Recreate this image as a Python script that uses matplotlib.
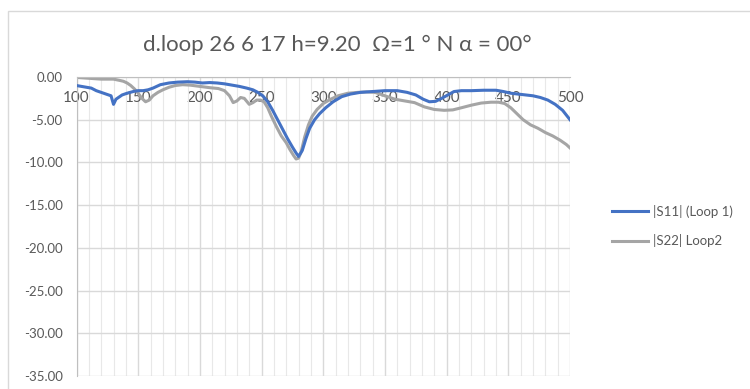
import matplotlib.pyplot as plt
import matplotlib.ticker as mticker
from matplotlib.patches import Rectangle

plt.rcParams['font.family'] = ['Lato', 'DejaVu Sans']
plt.rcParams['axes.unicode_minus'] = False

# |S11| (Loop 1)
freq_s11 = [100, 104, 108, 112, 116, 120, 124, 128, 130, 132, 134, 137, 141, 146, 150, 154,
            158, 162, 168, 175, 182, 190, 196, 202, 208, 214, 220, 226, 232, 238, 243, 247,
            251, 255, 259, 263, 267, 271, 275, 278, 280, 283, 286, 289, 293, 297, 302, 308,
            315, 322, 330, 340, 350, 360, 368, 375, 381, 386, 391, 396, 401, 406, 412, 420,
            430, 440, 446, 452, 458, 464, 470, 476, 482, 488, 494, 500]
s11 = [-1.0, -1.1, -1.2, -1.3, -1.6, -1.8, -2.0, -2.2, -3.2, -2.6, -2.4, -2.1, -1.9, -1.7,
       -1.6, -1.6, -1.5, -1.3, -0.9, -0.7, -0.6, -0.55, -0.6, -0.7, -0.65, -0.7, -0.8, -0.95,
       -1.1, -1.3, -1.5, -1.8, -2.2, -2.9, -3.9, -5.0, -6.1, -7.2, -8.2, -8.9, -9.3, -8.6,
       -7.2, -6.0, -5.0, -4.3, -3.6, -2.9, -2.3, -2.0, -1.8, -1.7, -1.6, -1.6, -1.8, -2.1,
       -2.6, -2.9, -2.85, -2.5, -2.1, -1.7, -1.6, -1.6, -1.55, -1.55, -1.7, -1.9, -2.0, -2.1,
       -2.2, -2.4, -2.7, -3.2, -3.9, -5.0]

# |S22| Loop2
freq_s22 = [100, 105, 110, 115, 120, 125, 130, 135, 138, 141, 144, 147, 150, 153, 156, 159,
            162, 166, 170, 175, 180, 186, 192, 200, 208, 215, 220, 224, 227, 230, 233, 236,
            240, 243, 246, 249, 252, 255, 258, 262, 266, 270, 273, 276, 278, 280, 282, 285,
            288, 291, 295, 300, 306, 312, 320, 328, 335, 342, 350, 358, 366, 374, 382, 390,
            398, 405, 412, 420, 428, 436, 442, 447, 452, 457, 462, 468, 474, 480, 486, 492,
            497, 500]
s22 = [-0.05, -0.1, -0.15, -0.2, -0.25, -0.25, -0.25, -0.4, -0.5, -0.7, -1.0, -1.4, -1.9,
       -2.5, -2.9, -2.7, -2.2, -1.8, -1.5, -1.2, -1.0, -0.9, -0.95, -1.1, -1.25, -1.35, -1.6,
       -2.2, -3.0, -2.8, -2.4, -2.5, -3.2, -3.0, -2.7, -2.7, -2.9, -3.6, -4.6, -5.8, -6.9,
       -7.7, -8.5, -9.2, -9.6, -9.5, -8.8, -7.0, -5.6, -4.6, -3.8, -3.1, -2.6, -2.2, -1.9,
       -1.8, -1.75, -1.8, -2.2, -2.6, -2.8, -3.0, -3.5, -3.8, -3.9, -3.85, -3.6, -3.3, -3.05,
       -2.95, -2.95, -3.1, -3.6, -4.3, -5.0, -5.6, -6.0, -6.5, -6.9, -7.4, -7.9, -8.3]

title = 'd.loop 26 6 17 h=9.20  \u03a9=1 \u00b0 N \u03b1 = 00\u00b0'
txt_color = '#595959'

fig = plt.figure(figsize=(7.5, 3.89), dpi=100)
fig.patches.append(Rectangle((8 / 750, -0.1), 1, 1 - 11 / 389 + 0.1, transform=fig.transFigure,
                             fill=False, edgecolor='#d9d9d9', linewidth=1))
ax = fig.add_axes([76.5 / 750, 13 / 389, (570 - 76.5) / 750, (376 - 77) / 389])

ax.plot(freq_s11, s11, color='#4472C4', linewidth=2.2, label='|S11| (Loop 1)', zorder=3)
ax.plot(freq_s22, s22, color='#A5A5A5', linewidth=2.2, label='|S22| Loop2', zorder=2)

ax.set_xlim(100, 500)
ax.set_ylim(-35, 0)
ax.xaxis.set_major_locator(mticker.MultipleLocator(50))
ax.xaxis.set_minor_locator(mticker.MultipleLocator(10))
ax.yaxis.set_major_locator(mticker.MultipleLocator(5))
ax.yaxis.set_major_formatter(mticker.FormatStrFormatter('%.2f'))

ax.grid(which='major', axis='both', color='#d9d9d9', linewidth=1)
ax.grid(which='minor', axis='x', color='#e8e8e8', linewidth=0.8)
ax.set_axisbelow(True)

for side in ['right', 'bottom']:
    ax.spines[side].set_visible(False)
ax.spines['left'].set_color('#bfbfbf')
ax.spines['top'].set_color('#bfbfbf')

ax.tick_params(axis='x', which='both', top=False, bottom=False, labelbottom=False,
               labeltop=True, pad=-24, labelsize=11, labelcolor=txt_color)
ax.tick_params(axis='y', length=0, pad=10, labelsize=9.5, labelcolor=txt_color)

fig.text(337 / 750, 1 - 45 / 389, title, ha='center', va='center', fontsize=16, color=txt_color)

fig.legend(loc='center left', bbox_to_anchor=(600 / 750, 1 - 226 / 389), frameon=False,
           fontsize=9.5, labelcolor=txt_color, handlelength=2.7, labelspacing=1.25,
           handletextpad=0.4)

fig.savefig('out.png', dpi=100)
